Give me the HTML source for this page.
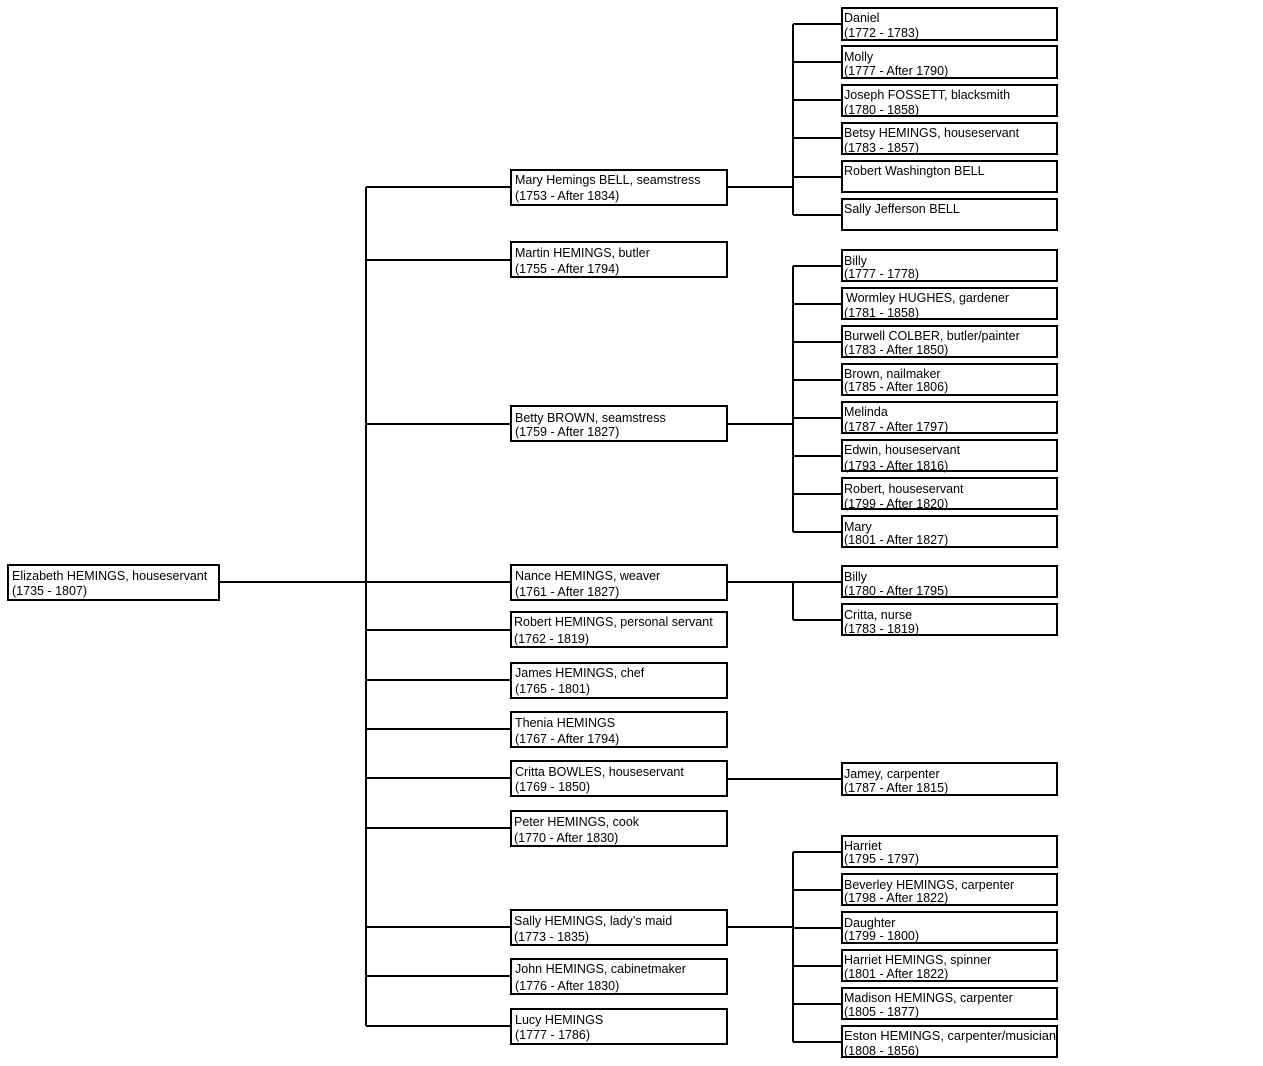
<!DOCTYPE html>
<html><head><meta charset="utf-8"><style>
html,body{margin:0;padding:0;background:#fff;}
svg{display:block;}
text{font-family:"Liberation Sans",sans-serif;font-size:12.5px;fill:#000;}
rect{fill:#fff;stroke:#000;stroke-width:2;}
line{stroke:#000;stroke-width:2;}
</style></head><body>
<svg width="1263" height="1066" viewBox="0 0 1263 1066" xmlns="http://www.w3.org/2000/svg">
<line x1="219" y1="582" x2="366" y2="582"/>
<line x1="366" y1="187" x2="366" y2="1026"/>
<line x1="366" y1="187" x2="511" y2="187"/>
<line x1="366" y1="260" x2="511" y2="260"/>
<line x1="366" y1="424" x2="511" y2="424"/>
<line x1="366" y1="582" x2="511" y2="582"/>
<line x1="366" y1="630" x2="511" y2="630"/>
<line x1="366" y1="680" x2="511" y2="680"/>
<line x1="366" y1="729" x2="511" y2="729"/>
<line x1="366" y1="778" x2="511" y2="778"/>
<line x1="366" y1="828" x2="511" y2="828"/>
<line x1="366" y1="927" x2="511" y2="927"/>
<line x1="366" y1="976" x2="511" y2="976"/>
<line x1="366" y1="1026" x2="511" y2="1026"/>
<line x1="727" y1="187" x2="793" y2="187"/>
<line x1="793" y1="24" x2="793" y2="215"/>
<line x1="793" y1="24" x2="842" y2="24"/>
<line x1="793" y1="62" x2="842" y2="62"/>
<line x1="793" y1="100" x2="842" y2="100"/>
<line x1="793" y1="138" x2="842" y2="138"/>
<line x1="793" y1="177" x2="842" y2="177"/>
<line x1="793" y1="215" x2="842" y2="215"/>
<line x1="727" y1="424" x2="793" y2="424"/>
<line x1="793" y1="266" x2="793" y2="532"/>
<line x1="793" y1="266" x2="842" y2="266"/>
<line x1="793" y1="304" x2="842" y2="304"/>
<line x1="793" y1="342" x2="842" y2="342"/>
<line x1="793" y1="380" x2="842" y2="380"/>
<line x1="793" y1="418" x2="842" y2="418"/>
<line x1="793" y1="456" x2="842" y2="456"/>
<line x1="793" y1="494" x2="842" y2="494"/>
<line x1="793" y1="532" x2="842" y2="532"/>
<line x1="727" y1="582" x2="842" y2="582"/>
<line x1="793" y1="582" x2="793" y2="620"/>
<line x1="793" y1="620" x2="842" y2="620"/>
<line x1="727" y1="779" x2="842" y2="779"/>
<line x1="727" y1="927" x2="793" y2="927"/>
<line x1="793" y1="852" x2="793" y2="1042"/>
<line x1="793" y1="852" x2="842" y2="852"/>
<line x1="793" y1="890" x2="842" y2="890"/>
<line x1="793" y1="928" x2="842" y2="928"/>
<line x1="793" y1="966" x2="842" y2="966"/>
<line x1="793" y1="1004" x2="842" y2="1004"/>
<line x1="793" y1="1042" x2="842" y2="1042"/>

<rect x="8" y="565" width="211" height="35"/>
<text x="12" y="580">Elizabeth HEMINGS, houseservant</text><text x="12" y="595">(1735 - 1807)</text>

<rect x="511" y="170" width="216" height="35"/><text x="515" y="184">Mary Hemings BELL, seamstress</text><text x="515" y="200">(1753 - After 1834)</text>
<rect x="511" y="242" width="216" height="35"/><text x="515" y="257">Martin HEMINGS, butler</text><text x="515" y="273">(1755 - After 1794)</text>
<rect x="511" y="406" width="216" height="35"/><text x="515" y="422">Betty BROWN, seamstress</text><text x="515" y="436">(1759 - After 1827)</text>
<rect x="511" y="565" width="216" height="35"/><text x="515" y="580">Nance HEMINGS, weaver</text><text x="515" y="596">(1761 - After 1827)</text>
<rect x="511" y="612" width="216" height="35"/><text x="514" y="626">Robert HEMINGS, personal servant</text><text x="514" y="643">(1762 - 1819)</text>
<rect x="511" y="663" width="216" height="35"/><text x="515" y="677">James HEMINGS, chef</text><text x="515" y="693">(1765 - 1801)</text>
<rect x="511" y="712" width="216" height="35"/><text x="515" y="727">Thenia HEMINGS</text><text x="515" y="743">(1767 - After 1794)</text>
<rect x="511" y="761" width="216" height="35"/><text x="515" y="776">Critta BOWLES, houseservant</text><text x="515" y="791">(1769 - 1850)</text>
<rect x="511" y="811" width="216" height="35"/><text x="514" y="826">Peter HEMINGS, cook</text><text x="514" y="842">(1770 - After 1830)</text>
<rect x="511" y="910" width="216" height="35"/><text x="514" y="925">Sally HEMINGS, lady’s maid</text><text x="514" y="941">(1773 - 1835)</text>
<rect x="511" y="959" width="216" height="35"/><text x="515" y="973">John HEMINGS, cabinetmaker</text><text x="515" y="990">(1776 - After 1830)</text>
<rect x="511" y="1009" width="216" height="35"/><text x="515" y="1024">Lucy HEMINGS</text><text x="515" y="1039">(1777 - 1786)</text>

<rect x="842" y="8" width="215" height="32"/><text x="844" y="22">Daniel</text><text x="844" y="37">(1772 - 1783)</text>
<rect x="842" y="46" width="215" height="32"/><text x="844" y="61">Molly</text><text x="844" y="75">(1777 - After 1790)</text>
<rect x="842" y="85" width="215" height="31"/><text x="844" y="99">Joseph FOSSETT, blacksmith</text><text x="844" y="114">(1780 - 1858)</text>
<rect x="842" y="123" width="215" height="31"/><text x="844" y="137">Betsy HEMINGS, houseservant</text><text x="844" y="152">(1783 - 1857)</text>
<rect x="842" y="161" width="215" height="31"/><text x="844" y="175">Robert Washington BELL</text>
<rect x="842" y="199" width="215" height="31"/><text x="844" y="213">Sally Jefferson BELL</text>

<rect x="842" y="250" width="215" height="31"/><text x="844" y="265">Billy</text><text x="844" y="278">(1777 - 1778)</text>
<rect x="842" y="288" width="215" height="31"/><text x="846" y="302">Wormley HUGHES, gardener</text><text x="844" y="317">(1781 - 1858)</text>
<rect x="842" y="326" width="215" height="31"/><text x="844" y="340">Burwell COLBER, butler/painter</text><text x="844" y="354">(1783 - After 1850)</text>
<rect x="842" y="364" width="215" height="31"/><text x="844" y="378">Brown, nailmaker</text><text x="844" y="391">(1785 - After 1806)</text>
<rect x="842" y="402" width="215" height="31"/><text x="844" y="416">Melinda</text><text x="844" y="431">(1787 - After 1797)</text>
<rect x="842" y="440" width="215" height="31"/><text x="844" y="454">Edwin, houseservant</text><text x="844" y="470">(1793 - After 1816)</text>
<rect x="842" y="478" width="215" height="31"/><text x="844" y="493">Robert, houseservant</text><text x="844" y="508">(1799 - After 1820)</text>
<rect x="842" y="516" width="215" height="31"/><text x="844" y="531">Mary</text><text x="844" y="544">(1801 - After 1827)</text>

<rect x="842" y="566" width="215" height="31"/><text x="844" y="581">Billy</text><text x="844" y="595">(1780 - After 1795)</text>
<rect x="842" y="604" width="215" height="31"/><text x="844" y="619">Critta, nurse</text><text x="844" y="633">(1783 - 1819)</text>

<rect x="842" y="763" width="215" height="32"/><text x="844" y="778">Jamey, carpenter</text><text x="844" y="792">(1787 - After 1815)</text>

<rect x="842" y="836" width="215" height="31"/><text x="844" y="850">Harriet</text><text x="844" y="863">(1795 - 1797)</text>
<rect x="842" y="874" width="215" height="31"/><text x="844" y="889">Beverley HEMINGS, carpenter</text><text x="844" y="902">(1798 - After 1822)</text>
<rect x="842" y="912" width="215" height="31"/><text x="844" y="927">Daughter</text><text x="844" y="940">(1799 - 1800)</text>
<rect x="842" y="950" width="215" height="31"/><text x="844" y="964">Harriet HEMINGS, spinner</text><text x="844" y="978">(1801 - After 1822)</text>
<rect x="842" y="988" width="215" height="31"/><text x="844" y="1002">Madison HEMINGS, carpenter</text><text x="844" y="1016">(1805 - 1877)</text>
<rect x="842" y="1026" width="215" height="31"/><text x="844" y="1040" textLength="212" lengthAdjust="spacingAndGlyphs">Eston HEMINGS, carpenter/musician</text><text x="844" y="1055">(1808 - 1856)</text>
</svg>
</body></html>
